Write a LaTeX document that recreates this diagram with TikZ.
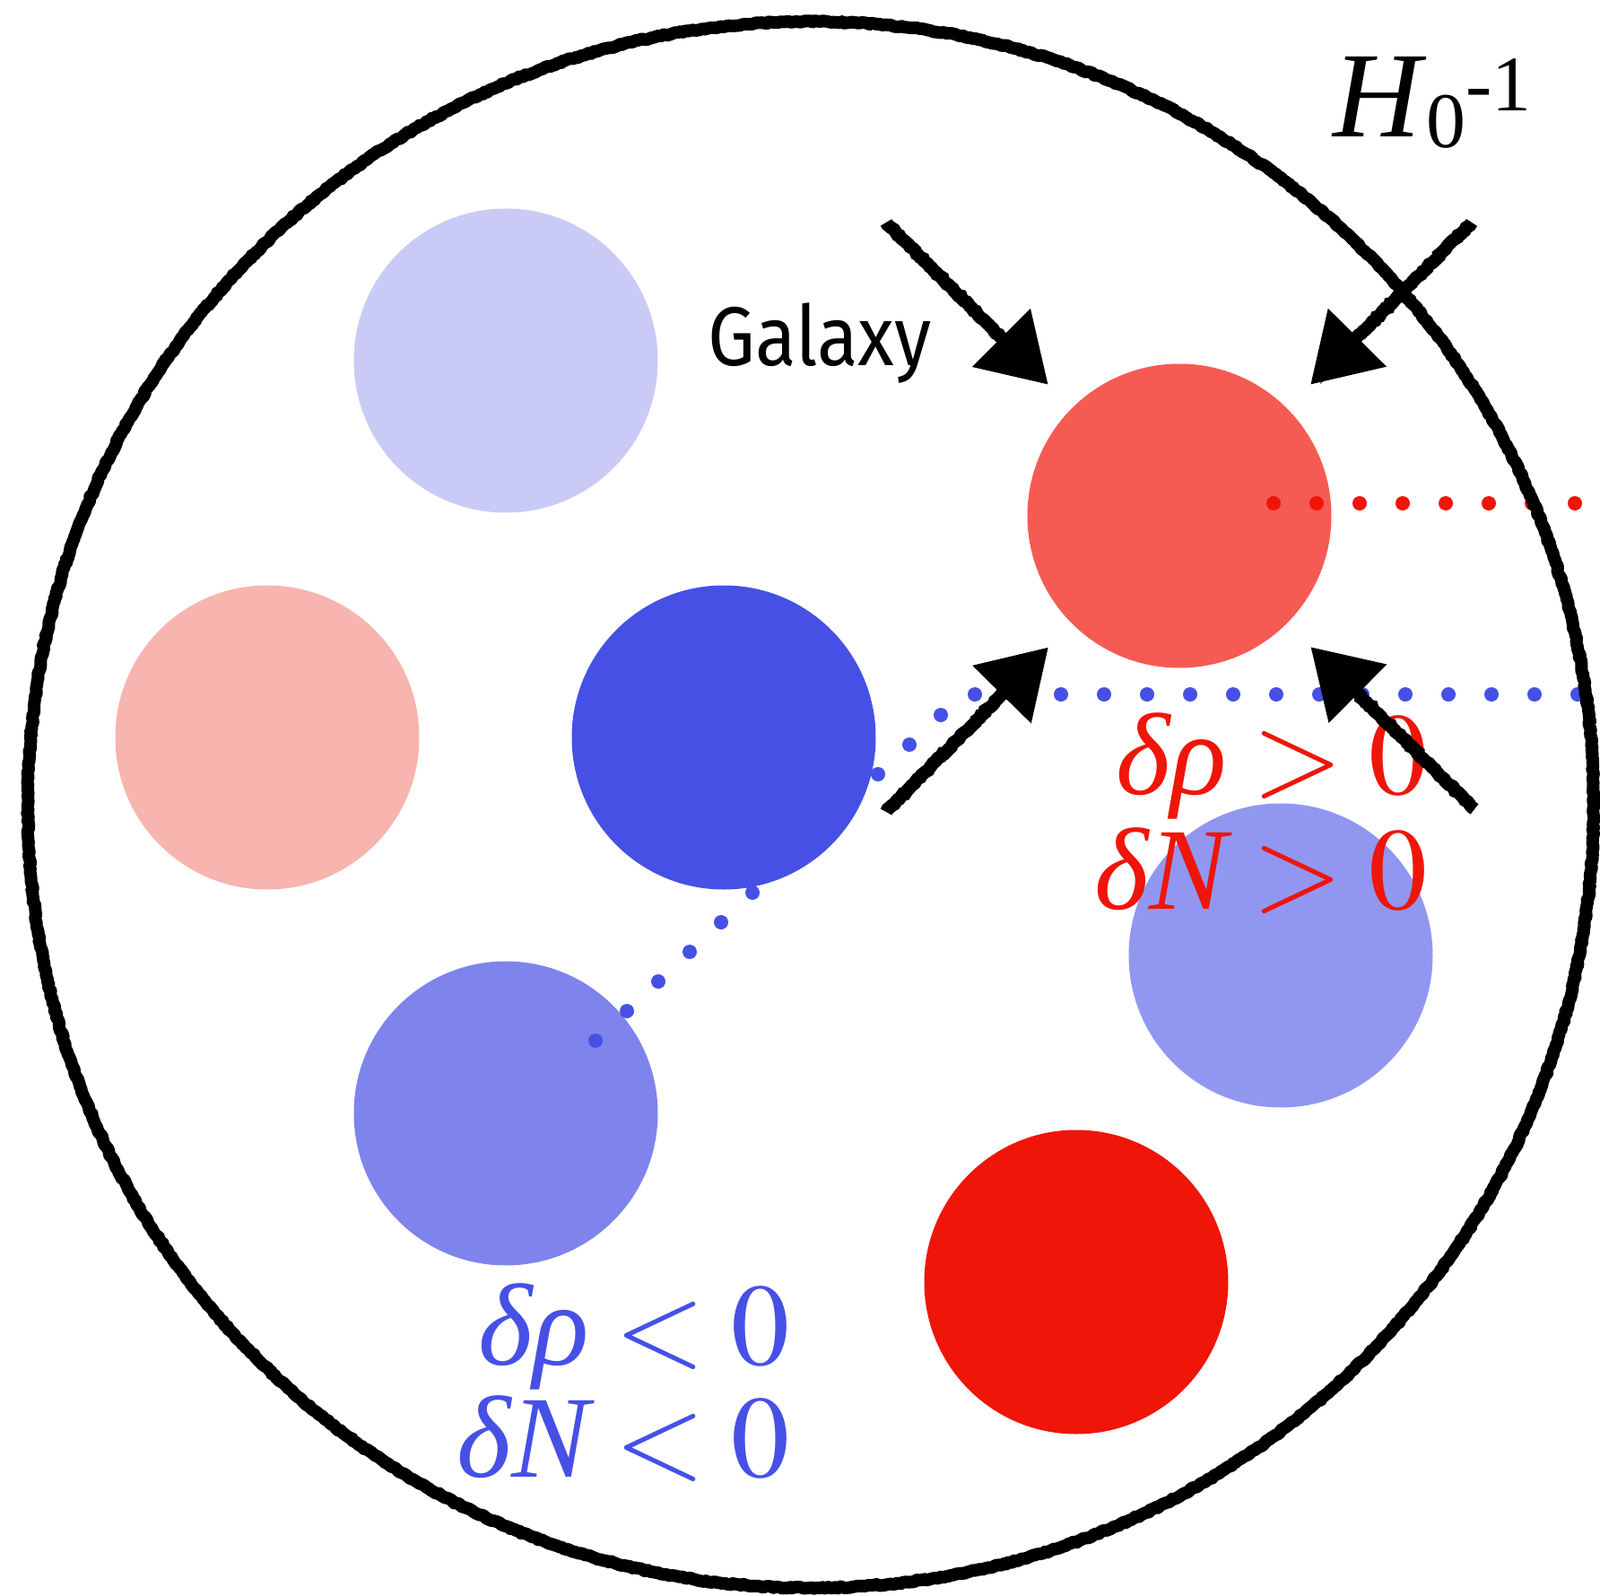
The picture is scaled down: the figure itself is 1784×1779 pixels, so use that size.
\documentclass[tikz,border=0pt]{standalone}
\usepackage{mathptmx}
\usepackage[no-math]{fontspec}
\setmainfont{Liberation Serif}
\newfontfamily\galfont{Fira Sans}
\usetikzlibrary{arrows.meta,decorations.pathmorphing,calc}
\definecolor{palelav}{HTML}{C9CBF6}
\definecolor{palepink}{HTML}{F8B4AE}
\definecolor{deepblue}{HTML}{4650E5}
\definecolor{midblue}{HTML}{7E84EC}
\definecolor{coral}{HTML}{F55B52}
\definecolor{peri}{HTML}{9197F0}
\definecolor{hotred}{HTML}{EF1508}

\tikzset{every picture/.style={line width=0.75pt}}

\begin{document}
\begin{tikzpicture}[x=0.1mm, y=-0.1mm,
		galaxy/.style={circle, minimum size=33.9mm, inner sep=0pt, draw=none},
		push/.style={line width=1.45mm, line cap=butt, -{Triangle[length=7.4mm, width=8.8mm]},
			decorate, decoration={random steps, segment length=0.3mm, amplitude=0.1mm, post=lineto, post length=6mm}},
		rim/.style={line width=1.4mm, line join=round, decorate, decoration={random steps, segment length=0.3mm, amplitude=0.1mm}},
		sign/.style={font=\fontsize{37}{44}\selectfont, inner sep=0pt}]
				\useasboundingbox (0,0) rectangle (1784,1779);
				\path (564,402) node[galaxy, fill=palelav](g1){}
				(298,822) node[galaxy, fill=palepink](g2){}
				(807,822) node[galaxy, fill=deepblue](g3){}
				(564,1241) node[galaxy, fill=midblue](g4){}
				(1315,575) node[galaxy, fill=coral](g5){}
				(1428,1065) node[galaxy, fill=peri](g6){}
				(1200,1429) node[galaxy, fill=hotred](g7){};
				\foreach \k in {0,...,7}\fill[hotred] (1420+48*\k,561) circle (0.8mm);
				\foreach \k in {0,...,11}\fill[deepblue] (664+35*\k,1160-33*\k) circle (0.8mm);
				\foreach \k in {0,...,14}\fill[deepblue] (1087+48*\k,774) circle (0.8mm);
				\node[anchor=base, inner sep=0pt, xscale=0.9, font=\galfont\fontsize{26.5}{30}\selectfont] (gal) at (914,407) {Galaxy};
				\node[anchor=base west, inner sep=0pt, font=\fontsize{38.7}{44}\selectfont] (hub) at (1485,152)
					{\textit{H}\raisebox{-1.2mm}{\fontsize{25}{30}\selectfont 0}\raisebox{2.9mm}{\fontsize{25}{30}\selectfont -1}};
				\node[sign, hotred, anchor=base east] (overrho) at (1593,885) {$\textit{δρ} > 0$};
				\node[sign, hotred, anchor=base east] (overN) at (1593,1013) {$\textit{δN} > 0$};
				\node[sign, deepblue, anchor=base east] (underrho) at (882,1521) {$\textit{δρ} < 0$};
				\node[sign, deepblue, anchor=base east] (underN) at (882,1646) {$\textit{δN} < 0$};
				\path (988,248)coordinate(t1)
				(1641,248)coordinate(t2)
				(988,905)coordinate(t3)
				(1644,902)coordinate(t4);
				\foreach \t/\a in {t1/135,t2/45,t3/225,t4/315}\draw[push] (\t)--($(g5.\a)!3.6mm!(\t)$);
				\draw[rim] (904,897) circle (87.3mm);
			\end{tikzpicture}
\end{document}
